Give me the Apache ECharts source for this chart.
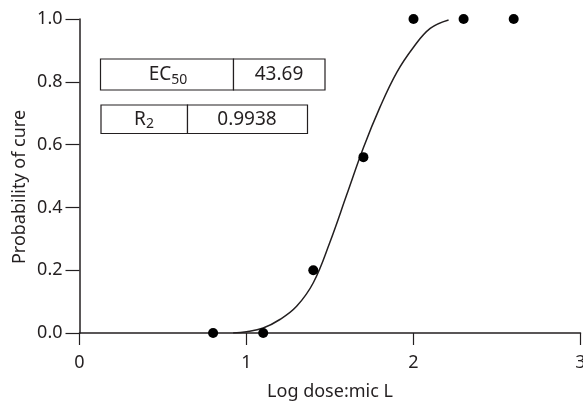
<!DOCTYPE html>
<html>
<head>
<meta charset="utf-8">
<script src="https://cdn.jsdelivr.net/npm/echarts@6/dist/echarts.min.js"></script>
<style>
  html, body { margin: 0; padding: 0; background: #fff; }
  #chart { width: 583px; height: 402px; }
</style>
</head>
<body>
<div id="chart"></div>
<script>
// Observed cure fraction at each log dose:MIC
const logDose = [0.8, 1.1, 1.4, 1.7, 2.0, 2.3, 2.6];
const cureProb = [0.0, 0.0, 0.2, 0.56, 1.0, 1.0, 1.0];

// Fitted dose-response curve
const fitX = [0.92, 1.0, 1.1, 1.2, 1.3, 1.4, 1.5, 1.6, 1.7, 1.8, 1.9, 2.0, 2.1, 2.21];
const fitY = [0.0, 0.004, 0.016, 0.043, 0.085, 0.16, 0.29, 0.44, 0.59, 0.72, 0.83, 0.91, 0.97, 0.997];

// Fit statistics
const ec50 = '43.69';
const r2 = '0.9938';

const ink = '#231f20';
const font = 'Noto Sans';

const chart = echarts.init(document.getElementById('chart'));
chart.setOption({
  animation: false,
  grid: { left: 79.5, right: 2.5, top: 19, bottom: 69, outerBoundsMode: 'none', containLabel: false },
  xAxis: {
    type: 'value', min: 0, max: 3, interval: 1,
    name: 'Log dose:mic L', nameLocation: 'middle', nameGap: 50,
    nameTextStyle: { color: ink, fontSize: 18, fontFamily: font },
    axisLine: { lineStyle: { color: ink, width: 1.5 } },
    axisTick: { lineStyle: { color: ink, width: 1.2 }, length: 12 },
    axisLabel: { color: ink, fontSize: 18, fontFamily: font, margin: 21 },
    splitLine: { show: false }
  },
  yAxis: {
    type: 'value', min: 0, max: 1, interval: 0.2,
    axisLine: { lineStyle: { color: ink, width: 1.5 } },
    axisTick: { lineStyle: { color: ink, width: 1.2 }, length: 14 },
    axisLabel: { color: ink, fontSize: 18, fontFamily: font, margin: 17,
      formatter: v => v.toFixed(1) },
    splitLine: { show: false }
  },
  series: [
    {
      type: 'line',
      data: fitX.map((x, i) => [x, fitY[i]]),
      smooth: 0.4,
      showSymbol: false,
      lineStyle: { color: ink, width: 1.5 },
      z: 2
    },
    {
      type: 'scatter',
      data: logDose.map((x, i) => [x, cureProb[i]]),
      symbolSize: 10,
      itemStyle: { color: '#000', opacity: 1 },
      z: 3
    }
  ],
  graphic: [
    // y-axis title
    { type: 'text', x: 20, y: 187, rotation: Math.PI / 2,
      style: { text: 'Probability of cure', align: 'center', verticalAlign: 'middle',
        fontSize: 18, fontFamily: font, fill: ink } },
    // EC50 row
    { type: 'rect', shape: { x: 100.5, y: 59, width: 133, height: 31 },
      style: { fill: '#fff', stroke: ink, lineWidth: 1.2 } },
    { type: 'rect', shape: { x: 233.5, y: 59, width: 91.5, height: 31 },
      style: { fill: '#fff', stroke: ink, lineWidth: 1.2 } },
    { type: 'text', x: 168, y: 75,
      style: { text: '{m|EC}{s|50}', align: 'center', verticalAlign: 'middle',
        rich: { m: { fontSize: 19, fontFamily: font, fill: ink },
                s: { fontSize: 14, fontFamily: font, fill: ink, padding: [10, 0, 0, 0] } } } },
    { type: 'text', x: 279, y: 75,
      style: { text: ec50, align: 'center', verticalAlign: 'middle',
        fontSize: 19, fontFamily: font, fill: ink } },
    // R2 row
    { type: 'rect', shape: { x: 101, y: 105, width: 86.5, height: 28.5 },
      style: { fill: '#fff', stroke: ink, lineWidth: 1.2 } },
    { type: 'rect', shape: { x: 187.5, y: 105, width: 120, height: 28.5 },
      style: { fill: '#fff', stroke: ink, lineWidth: 1.2 } },
    { type: 'text', x: 144, y: 119.5,
      style: { text: '{m|R}{s|2}', align: 'center', verticalAlign: 'middle',
        rich: { m: { fontSize: 19, fontFamily: font, fill: ink },
                s: { fontSize: 14, fontFamily: font, fill: ink, padding: [10, 0, 0, 0] } } } },
    { type: 'text', x: 247, y: 119.5,
      style: { text: r2, align: 'center', verticalAlign: 'middle',
        fontSize: 19, fontFamily: font, fill: ink } }
  ]
});
</script>
</body>
</html>
